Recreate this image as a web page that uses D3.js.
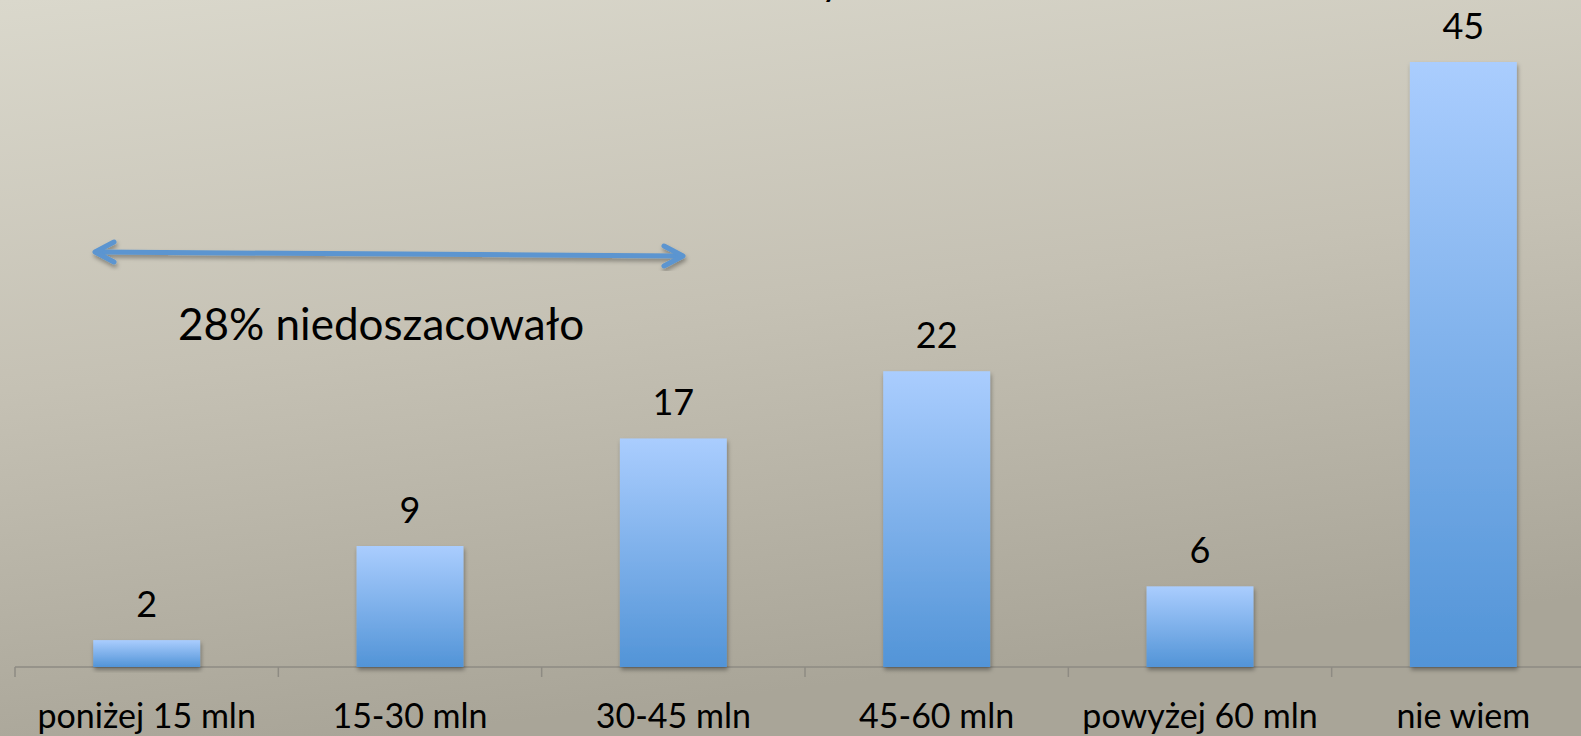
<!DOCTYPE html>
<html><head><meta charset="utf-8">
<script src="https://cdn.jsdelivr.net/npm/d3@7"></script>
<style>
html,body{margin:0;padding:0;overflow:hidden;}
svg{display:block;}
text{font-family:Lato,"Open Sans",sans-serif;fill:#000;}
</style></head>
<body>
<svg id="chart" width="1581" height="736"></svg>
<script>
const categories = ["poniżej 15 mln","15-30 mln","30-45 mln","45-60 mln","powyżej 60 mln","nie wiem"];
const values = [2, 9, 17, 22, 6, 45];
const annotationText = "28% niedoszacowało";
const titleFragment = "y";

const W = 1581, H = 736;
const svg = d3.select("#chart");
const defs = svg.append("defs");

const bg = defs.append("linearGradient").attr("id","bg").attr("x1","0").attr("y1","0").attr("x2","0.25").attr("y2","1");
bg.append("stop").attr("offset","0").attr("stop-color","#DAD8CC");
bg.append("stop").attr("offset","0.5").attr("stop-color","#C5C1B4");
bg.append("stop").attr("offset","1").attr("stop-color","#A9A598");

const bar = defs.append("linearGradient").attr("id","bar").attr("x1","0").attr("y1","0").attr("x2","0").attr("y2","1");
bar.append("stop").attr("offset","0").attr("stop-color","#AACDFE");
bar.append("stop").attr("offset","1").attr("stop-color","#5294D7");

const sh = defs.append("filter").attr("id","shadow").attr("x","-10%").attr("y","-10%").attr("width","130%").attr("height","130%");
sh.append("feDropShadow").attr("dx",1).attr("dy",3).attr("stdDeviation",2).attr("flood-color","#000").attr("flood-opacity",0.35);

svg.append("rect").attr("width",W).attr("height",H).attr("fill","url(#bg)");

const x = d3.scaleBand().domain(categories).range([15, 1595]).paddingInner(0.594).paddingOuter(0.297);
const y = d3.scaleLinear().domain([0, 45]).range([667, 62]);

// title fragment (cut off at top, as in the original slide)
svg.append("text").attr("x", 821).attr("y", -5).attr("font-size", 40).text(titleFragment);

// axis line and ticks
svg.append("line").attr("x1", 15).attr("x2", W).attr("y1", y(0)).attr("y2", y(0))
  .attr("stroke","#8E8B83").attr("stroke-width",1.5);
const tickPos = d3.range(categories.length + 1).map(i => 15 + i * x.step());
svg.selectAll("line.tick").data(tickPos).join("line").attr("class","tick")
  .attr("x1", d => d).attr("x2", d => d).attr("y1", y(0)).attr("y2", y(0) + 10)
  .attr("stroke","#8E8B83").attr("stroke-width",1.5);

// bars
svg.selectAll("rect.bar").data(values).join("rect").attr("class","bar")
  .attr("x", (d,i) => x(categories[i])).attr("width", x.bandwidth())
  .attr("y", d => y(d)).attr("height", d => y(0) - y(d))
  .attr("fill","url(#bar)").attr("filter","url(#shadow)");

// value labels
svg.selectAll("text.val").data(values).join("text").attr("class","val")
  .attr("x", (d,i) => x(categories[i]) + x.bandwidth()/2).attr("y", d => y(d) - 23)
  .attr("text-anchor","middle").attr("font-size", 36).text(d => d);

// category labels
svg.selectAll("text.cat").data(categories).join("text").attr("class","cat")
  .attr("x", d => x(d) + x.bandwidth()/2).attr("y", 728)
  .attr("text-anchor","middle").attr("font-size", 34).text(d => d);

// arrow annotation
const arrowG = svg.append("g").attr("filter","url(#shadow)");
const ax1 = 95, ay1 = 252, ax2 = 683, ay2 = 256;
arrowG.append("line").attr("x1", ax1 + 3).attr("y1", ay1).attr("x2", ax2 - 3).attr("y2", ay2)
  .attr("stroke","#5B95D0").attr("stroke-width",5);
arrowG.append("path").attr("d", `M${ax1+19},${ay1-10} L${ax1},${ay1} L${ax1+19},${ay1+10}`)
  .attr("fill","none").attr("stroke","#5B95D0").attr("stroke-width",5).attr("stroke-linecap","round").attr("stroke-linejoin","round");
arrowG.append("path").attr("d", `M${ax2-19},${ay2-10} L${ax2},${ay2} L${ax2-19},${ay2+10}`)
  .attr("fill","none").attr("stroke","#5B95D0").attr("stroke-width",5).attr("stroke-linecap","round").attr("stroke-linejoin","round");

svg.append("text").attr("x", 178).attr("y", 340).attr("font-size", 44).text(annotationText);
</script>
</body></html>
